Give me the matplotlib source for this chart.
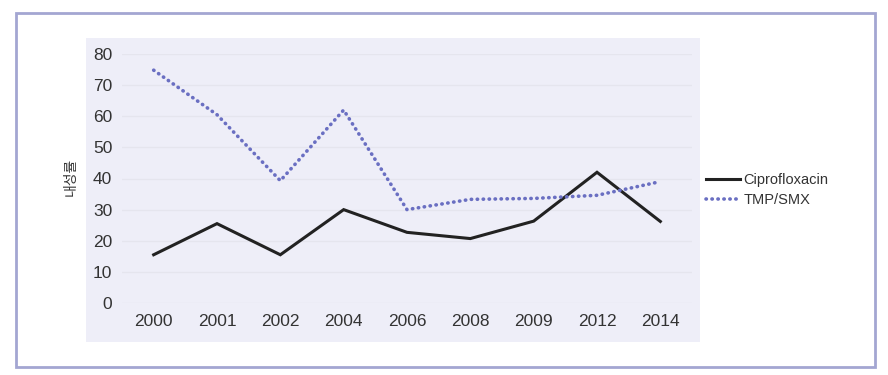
import matplotlib
matplotlib.use("Agg")
import matplotlib.pyplot as plt
from matplotlib.patches import Rectangle

# 연도별 내성률 (%)
years = ["2000", "2001", "2002", "2004", "2006", "2008", "2009", "2012", "2014"]
cipro = [15.5, 25.5, 15.5, 30.0, 22.7, 20.7, 26.3, 42.0, 26.2]
tmp_smx = [74.8, 60.5, 39.3, 62.0, 30.0, 33.3, 33.6, 34.6, 39.0]
yticks = [0, 10, 20, 30, 40, 50, 60, 70, 80]

W, H = 888, 375
plt.rcParams["font.family"] = ["Liberation Sans", "DejaVu Sans"]

fig = plt.figure(figsize=(W / 100, H / 100), dpi=100)


def fx(px):
    return px / W


def fy(py):
    return 1 - py / H


# outer frame
fig.patches.append(Rectangle((fx(16), fy(367)), fx(875) - fx(16), fy(13) - fy(367),
                             transform=fig.transFigure, facecolor="white",
                             edgecolor="#a3a6d2", linewidth=2, zorder=-2))
# lavender panel behind the plot
fig.patches.append(Rectangle((fx(86), fy(342)), fx(700) - fx(86), fy(38) - fy(342),
                             transform=fig.transFigure, facecolor="#eeeef8",
                             edgecolor="none", zorder=-1))

ax = fig.add_axes([fx(122), fy(303), fx(692) - fx(122), fy(54) - fy(303)])
ax.set_facecolor("none")
ax.set_zorder(2)

x = list(range(len(years)))
ax.plot(x, cipro, color="#222222", linewidth=2.2, label="Ciprofloxacin",
        solid_joinstyle="miter", clip_on=False, zorder=3)
ax.plot(x, tmp_smx, color="#6a6fc2", linewidth=2.6, linestyle=(0, (0.1, 1.55)),
        dash_capstyle="round", label="TMP/SMX", clip_on=False, zorder=3)

ax.set_xlim(-0.5, len(years) - 0.5)
ax.set_ylim(0, 80)
ax.set_yticks(yticks)
ax.set_xticks(x)
ax.set_xticklabels(years)
ax.tick_params(axis="both", length=0, labelsize=12.5, colors="#333333")
ax.tick_params(axis="y", pad=7)
ax.tick_params(axis="x", pad=8)
ax.grid(axis="y", color="#e5e5ee", linewidth=1)
ax.set_axisbelow(True)
for s in ax.spines.values():
    s.set_visible(False)

fig.text(fx(71), fy(177), "내성률", rotation=90, ha="center", va="center",
         fontsize=10, color="#333333", fontweight="medium",
         family=["Noto Sans CJK KR", "DejaVu Sans"])

ax.legend(loc="center left", bbox_to_anchor=(fx(706), fy(190)),
          bbox_transform=fig.transFigure, frameon=False, fontsize=10.5,
          handlelength=2.3, handletextpad=0.25, labelspacing=0.4,
          borderpad=0, borderaxespad=0, labelcolor="#333333")

fig.savefig("out.png", dpi=100)
